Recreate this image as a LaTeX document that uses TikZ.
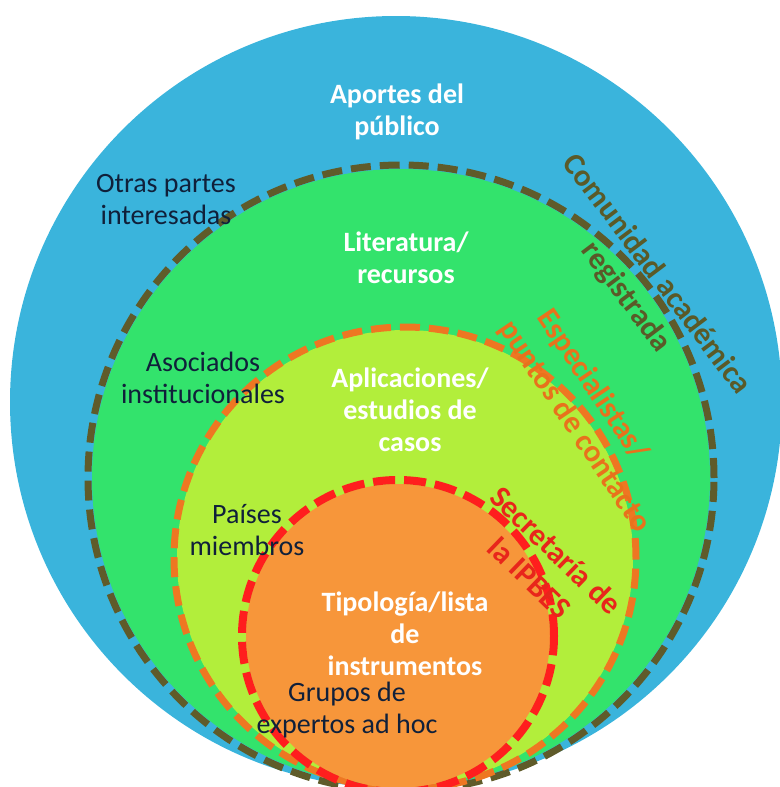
\documentclass[tikz,border=0pt]{standalone}
\usepackage{fontspec}
\setmainfont{Carlito}
\definecolor{cblue}{HTML}{3AB4DC}
\definecolor{cgreen}{HTML}{33E36C}
\definecolor{cyell}{HTML}{B2EE3B}
\definecolor{corange}{HTML}{F7963A}
\definecolor{dolive}{HTML}{5F5B2A}
\definecolor{dorange}{HTML}{EE7722}
\definecolor{dred}{HTML}{FF1E1E}
\definecolor{tolive}{HTML}{5A5A28}
\definecolor{torange}{HTML}{E8721C}
\definecolor{tred}{HTML}{E8261B}
\definecolor{tdark}{HTML}{10203A}
\tikzset{
  ring/.style={line width=7pt, dash pattern=on 20pt off 9pt},
  wlabel/.style={text=white, font=\fontsize{28}{32}\selectfont\bfseries, align=center},
  blabel/.style={text=tdark, font=\fontsize{28}{32}\selectfont, align=center},
  rlabel/.style={font=\fontsize{31}{38}\selectfont\bfseries, align=center}
}
\begin{document}
\begin{tikzpicture}[x=1pt,y=-1pt]
\useasboundingbox (0,0) rectangle (779,787);
% circles
\fill[cblue] (396,402) circle[radius=386pt];
\fill[cgreen] (401,478) circle[radius=309pt];
\draw[ring, dolive] (401,478) circle[radius=313pt];
\fill[cyell] (405,558) circle[radius=228pt];
\draw[ring, dorange] (405,558) circle[radius=231pt];
\fill[corange] (398,636) circle[radius=152pt];
\draw[ring, dred, line width=8pt, dash pattern=on 22pt off 9pt] (398,636) circle[radius=156pt];
% labels
\node[wlabel] (aportes) at (397,112) {Aportes del\\público};
\node[blabel] (otras) at (166,200) {Otras partes\\interesadas};
\node[wlabel] (lit) at (406,258) {Literatura/\\recursos};
\node[rlabel, text=tolive, rotate=-53] (comunidad) at (641,286) {Comunidad académica\\registrada};
\node[blabel] (asoc) at (203,378) {Asociados\\institucionales};
\node[wlabel] (aplic) at (410,410) {Aplicaciones/\\estudios de\\casos};
\node[rlabel, text=torange, rotate=-56, align=left] (espec) at (590,416) {\hspace*{12pt}Especialistas/\\puntos de contacto};
\node[blabel] (paises) at (247,530) {Países\\miembros};
\node[rlabel, text=tred, rotate=-44] (secr) at (543,564) {Secretaría de\\la IPBES};
\node[wlabel] (tipo) at (405,634) {Tipología/lista\\de\\instrumentos};
\node[blabel] (grupos) at (347,710) {Grupos de\\expertos ad hoc};
\end{tikzpicture}
\end{document}
